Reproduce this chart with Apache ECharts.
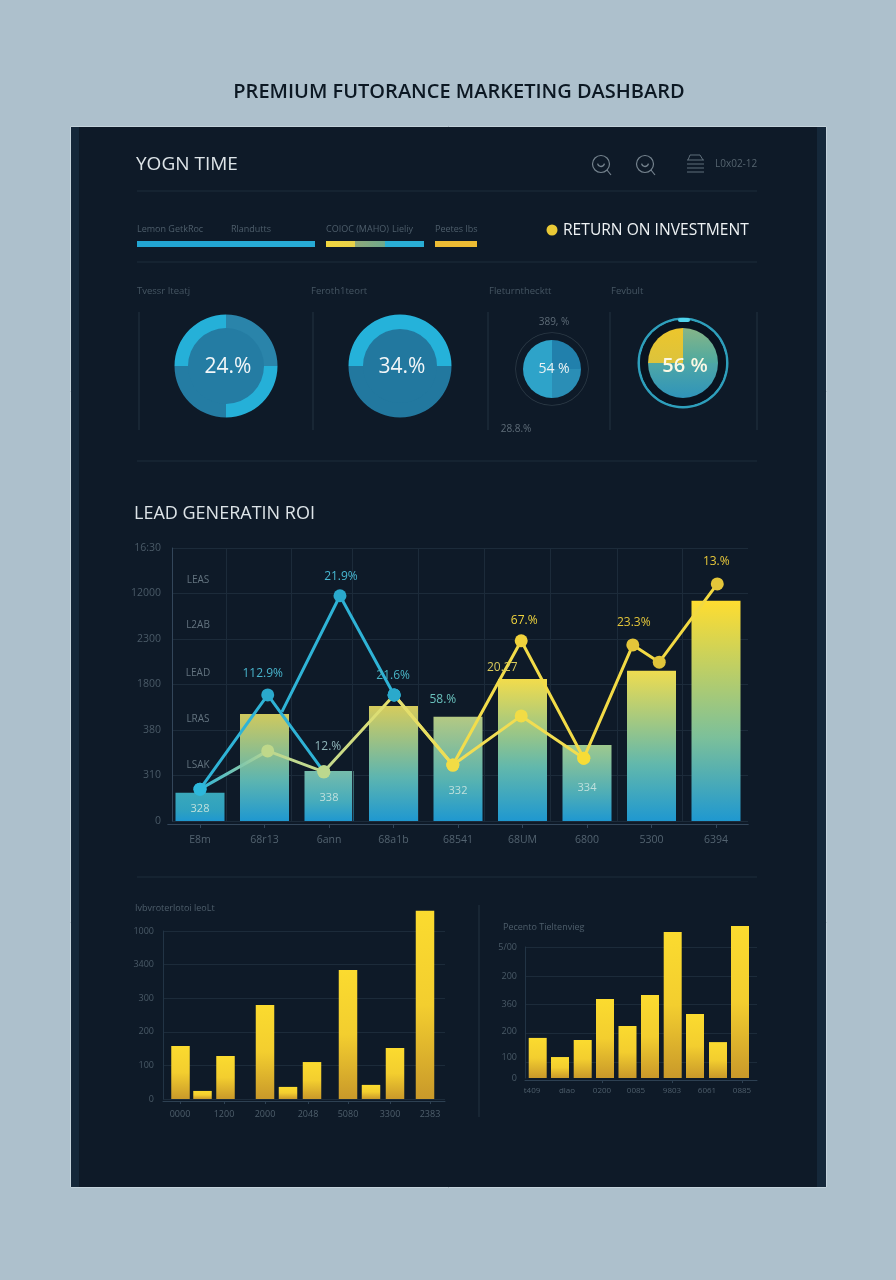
<!DOCTYPE html>
<html>
<head>
<meta charset="utf-8">
<title>Marketing dashboard</title>
<style>html,body{margin:0;padding:0;background:#adc0cc}#main{width:896px;height:1280px}</style>
<script src="https://cdn.jsdelivr.net/npm/echarts@6/dist/echarts.min.js"></script>
</head>
<body>
<div id="main"></div>
<script>
// Strip of progress segments under the header
const stripLabels = ['Lemon GetkRoc', 'Rlandutts', 'COIOC (MAHO)', 'Lieliy', 'Peetes lbs'];
const stripSegments = [93, 85, 11, 29, 30, 39, 11, 42];

// Ring and pie panels
const panelTitles = ['Tvessr Iteatj', 'Feroth1teort', 'Fleturnthecktt', 'Fevbult'];
const ringOneShares = [25, 25, 25, 25];
const ringTwoShares = [50, 50];
const pieThreeShares = [25, 25, 50];
const pieFourShares = [25, 50, 25];
const centreTexts = ['24.%', '34.%', '54 %', '56 %'];

// Lead generation chart
const leadCategories = ['E8m', '68r13', '6ann', '68a1b', '68541', '68UM', '6800', '5300', '6394'];
const leadTicks = ['0', '310', '380', '1800', '2300', '12000', '16:30'];
const leadRowNames = ['LEAS', 'L2AB', 'LEAD', 'LRAS', 'LSAK'];
const leadBars = [62, 235, 110, 253, 229, 312, 167, 330, 484];
const leadBarNotes = ['328', '', '338', '', '332', '', '334', '', ''];
const blueRise = [[0, 70], [1.05, 277], [1.92, 108]];
const blueRiseNotes = ['', '112.9%', ''];
const bluePeak = [[1.27, 240], [2.17, 495], [3.01, 277]];
const bluePeakNotes = ['', '21.9%', '21.6%'];
const paleLine = [[0, 70], [1.05, 154], [1.92, 108], [3.01, 277], [3.92, 123], [4.98, 231], [5.95, 138]];
const paleNotes = ['', '', '12.%', '', '', '20.27', ''];
const goldLine = [[3.01, 277], [3.92, 123], [4.98, 396], [5.95, 138], [6.71, 387], [7.12, 349], [8.02, 521]];
const goldNotes = ['', '58.%', '67.%', '', '23.3%', '', '13.%'];

// Lower left bars
const leftSlots = [1.75, 3.95, 6.25, 10.2, 12.5, 14.9, 18.5, 20.8, 23.2, 26.2];
const leftValues = [158, 24, 128, 280, 36, 110, 384, 42, 152, 560];
const leftTicks = ['0', '100', '200', '300', '3400', '1000'];
const leftSlotLabels = ['0000', '1200', '2000', '2048', '5080', '3300', '2383'];
const leftLabelSlots = [1.7, 6.1, 10.2, 14.5, 18.5, 22.7, 26.7];

// Lower right bars
const rightSlots = [1.27, 3.5, 5.77, 8, 10.25, 12.5, 14.77, 17, 19.3, 21.5];
const rightValues = [153, 80, 145, 302, 198, 317, 557, 244, 137, 580];
const rightGridValues = [61, 172, 282, 389, 500];
const rightTickValues = [0, 80, 179, 282, 389, 500];
const rightTicks = ['0', '100', '200', '360', '200', '5/00'];
const rightSlotLabels = ['t409', 'dlao', '0200', '0085', '9803', '6061', '0885'];
const rightLabelSlots = [0.7, 4.2, 7.7, 11.1, 14.7, 18.2, 21.7];

const FONT = '"Open Sans", sans-serif';
const DIM = '#4e5e6b';
const RULE = '#1d2c3b';

const leadBarTops = ['#3aa8bb', '#cfc95e', '#76bcab', '#d6cc5c', '#b4c983', '#f2dc4c', '#9ec98e', '#eedc50', '#ffdd30'];
const leadBarMids = ['#2fa1bf', '#5db5b0', '#45abbc', '#5db5b0', '#55b2b2', '#62b8ac', '#50aeb6', '#62b8ac', '#7cc09a'];

const chart = echarts.init(document.getElementById('main'), null, { renderer: 'canvas' });

function txt(text, x, y, size, fill, extra) {
  return { type: 'text', z: 100, silent: true, style: Object.assign({
    text, x, y, fill, font: size + 'px ' + FONT, textVerticalAlign: 'middle', verticalAlign: 'middle'
  }, extra || {}) };
}
function hrule(y) {
  return { type: 'line', z: -5, silent: true, shape: { x1: 137, y1: y, x2: 757, y2: y }, style: { stroke: RULE, lineWidth: 1 } };
}
function vrule(x, y1, y2) {
  return { type: 'line', z: -5, silent: true, shape: { x1: x, y1, x2: x, y2 }, style: { stroke: '#223240', lineWidth: 1 } };
}
function lens(cx, cy) {
  return [
    { type: 'circle', z: 50, silent: true, shape: { cx, cy, r: 8.5 }, style: { fill: 'none', stroke: '#75838e', lineWidth: 1.2 } },
    { type: 'line', z: 50, silent: true, shape: { x1: cx + 6, y1: cy + 6, x2: cx + 10, y2: cy + 11 }, style: { stroke: '#75838e', lineWidth: 1.2 } },
    { type: 'arc', z: 50, silent: true, shape: { cx, cy: cy - 1, r: 3.5, startAngle: 0.2, endAngle: Math.PI - 0.2 }, style: { fill: 'none', stroke: '#75838e', lineWidth: 1.4 } }
  ];
}
function sheetIcon() {
  const rows = [160, 164, 168, 172].map(y => ({
    type: 'line', z: 50, silent: true, shape: { x1: 687, y1: y, x2: 704, y2: y }, style: { stroke: '#5f6e7a', lineWidth: 1 }
  }));
  return rows.concat([{ type: 'polyline', z: 50, silent: true,
    shape: { points: [[688, 160], [690, 155], [700, 155], [703, 160]] }, style: { fill: 'none', stroke: '#5f6e7a', lineWidth: 1 } }]);
}

const graphicElements = [
  { type: 'rect', z: -10, silent: true, shape: { x: 0, y: 0, width: 896, height: 1280 }, style: { fill: '#adc0cc' } },
  { type: 'rect', z: -9, silent: true, shape: { x: 70.5, y: 126.5, width: 756, height: 1061 }, style: { fill: '#0e1a28', stroke: '#c3d2db', lineWidth: 1 } },
  { type: 'rect', z: -8, silent: true, shape: { x: 71, y: 127, width: 8, height: 1060 }, style: { fill: '#15283a' } },
  { type: 'rect', z: -8, silent: true, shape: { x: 817, y: 127, width: 9, height: 1060 }, style: { fill: '#15283a' } },
  txt('PREMIUM FUTORANCE MARKETING DASHBARD', 459, 92, 20, '#0c1823', { textAlign: 'center', align: 'center', font: '600 20px ' + FONT }),
  txt('YOGN TIME', 136, 165, 19, '#dde4e8'),
  txt('L0x02-12', 715, 164, 10, '#55646f'),
  hrule(191), hrule(262), hrule(461), hrule(877),
  { type: 'circle', z: 50, silent: true, shape: { cx: 552, cy: 230, r: 5.5 }, style: { fill: '#e9c936' } },
  txt('RETURN ON INVESTMENT', 563, 231, 15.6, '#eef2f4'),
  txt(stripLabels[0], 137, 229, 9, DIM), txt(stripLabels[1], 231, 229, 9, DIM),
  txt(stripLabels[2], 326, 229, 9, DIM), txt(stripLabels[3], 392, 229, 9, DIM), txt(stripLabels[4], 435, 229, 9, DIM),
  txt(panelTitles[0], 137, 291, 9.5, '#465663'), txt(panelTitles[1], 311, 291, 9.5, '#465663'),
  txt(panelTitles[2], 489, 291, 9.5, '#465663'), txt(panelTitles[3], 611, 291, 9.5, '#465663'),
  vrule(139, 312, 430), vrule(313, 312, 430), vrule(488, 312, 430), vrule(610, 312, 430), vrule(757, 312, 430),
  txt(centreTexts[0], 228, 367, 21, '#f2f6f8', { textAlign: 'center', align: 'center' }),
  txt(centreTexts[1], 402, 367, 21, '#f2f6f8', { textAlign: 'center', align: 'center' }),
  txt(centreTexts[2], 554, 369, 14, '#eaf2f4', { textAlign: 'center', align: 'center' }),
  txt(centreTexts[3], 685, 366, 20, '#fbf8e4', { textAlign: 'center', align: 'center', font: '600 20px ' + FONT }),
  txt('389, %', 554, 322, 10, '#5e6c78', { textAlign: 'center', align: 'center' }),
  txt('28.8.%', 516, 429, 10, '#5e6c78', { textAlign: 'center', align: 'center' }),
  { type: 'rect', z: 60, silent: true, shape: { x: 678, y: 318, width: 12, height: 4, r: 2 }, style: { fill: '#4fd3ec' } },
  txt('LEAD GENERATIN ROI', 134, 514, 18, '#dde4e8'),
  txt('Ivbvroterlotoi leoLt', 135, 908, 9, DIM),
  txt('Pecento Tieltenvieg', 503, 927, 9, DIM),
  vrule(479, 905, 1117)
].concat(lens(601, 164), lens(645, 164), sheetIcon());
leadRowNames.forEach((name, i) => {
  graphicElements.push(txt(name, 198, [580, 625, 673, 719, 765][i], 10, '#63737f', { textAlign: 'center', align: 'center' }));
});

const stripColours = [
  '#22a5d2', '#27abd6', 'transparent',
  { type: 'linear', x: 0, y: 0, x2: 1, y2: 0, colorStops: [{ offset: 0, color: '#f1d63f' }, { offset: 1, color: '#e8d24a' }] },
  { type: 'linear', x: 0, y: 0, x2: 1, y2: 0, colorStops: [{ offset: 0, color: '#8fa87a' }, { offset: 1, color: '#6fa98c' }] },
  '#29aed6', 'transparent', '#edbc34'
];
const stripSeries = stripSegments.map((v, i) => ({
  type: 'bar', stack: 'strip', xAxisIndex: 0, yAxisIndex: 0, barWidth: 6, silent: true,
  data: [v], itemStyle: { color: stripColours[i] }
}));

function pieSeries(center, radius, shares, colours, startAngle) {
  return {
    type: 'pie', center, radius, startAngle, clockwise: true, silent: true, label: { show: false }, labelLine: { show: false },
    itemStyle: { borderWidth: 0 },
    data: shares.map((v, i) => ({ value: v, itemStyle: { color: colours[i] } }))
  };
}
function vgrad(top, bottom) {
  return { type: 'linear', x: 0, y: 0, x2: 0, y2: 1, colorStops: [{ offset: 0, color: top }, { offset: 1, color: bottom }] };
}

const pies = [
  pieSeries([226, 366], [0, 39], [100], ['#247ca3'], 90),
  pieSeries([226, 366], [38, 51.5], ringOneShares, ['#2a84aa', '#25b0d8', '#247ca3', '#25b0d8'], 90),
  pieSeries([400, 366], [0, 38], [100], ['#22789f'], 90),
  pieSeries([400, 366], [37, 51.5], ringTwoShares, ['#25b2da', '#22789f'], 180),
  pieSeries([552, 369], [36, 36.8], [100], ['#2c3a46'], 90),
  pieSeries([552, 369], [0, 29], pieThreeShares, ['#2180ac', '#2a8eb6', '#2ea3c9'], 90),
  pieSeries([683, 363], [43, 45.5], [100], ['#2e9fbc'], 90),
  pieSeries([683, 363], [0, 43], [100], ['#091320'], 90),
  pieSeries([683, 363], [0, 35], pieFourShares,
    [vgrad('#86b588', '#4ea9a0'), vgrad('#4ea6a6', '#2f94ba'), vgrad('#edc62c', '#dcc33c')], 90)
];

function gradientAlong(stops) {
  return { type: 'linear', x: 172, y: 0, x2: 748, y2: 0, global: true,
    colorStops: stops.map(s => ({ offset: s[0], color: s[1] })) };
}
// Note offsets keep each percentage clear of the lines meeting at its point.
const noteOffsets = {
  '112.9%': [-5, -4], '21.9%': [1, -2], '21.6%': [-1, -2], '12.%': [4, -8], '20.27': [-19, -31],
  '58.%': [-10, -48], '67.%': [3, -3], '23.3%': [1, -5], '13.%': [-1, -5]
};
function leadLine(points, notes, stroke, dotColours, noteColours) {
  return {
    type: 'line', xAxisIndex: 5, yAxisIndex: 3, z: 5, silent: true, symbol: 'circle', symbolSize: 13,
    lineStyle: { width: 3, color: stroke },
    data: points.map((p, i) => ({
      value: p,
      itemStyle: { color: dotColours[i] },
      label: notes[i] ? {
        show: true, position: 'top', distance: 5, offset: noteOffsets[notes[i]],
        formatter: notes[i], color: noteColours[i], fontSize: 12, fontFamily: FONT
      } : { show: false }
    }))
  };
}

const leadBarSeries = {
  type: 'bar', xAxisIndex: 4, yAxisIndex: 3, barWidth: 49, z: 3, silent: true,
  data: leadBars.map((v, i) => ({
    value: v,
    itemStyle: { color: {
      type: 'linear', x: 0, y: 0, x2: 0, y2: 1,
      colorStops: [{ offset: 0, color: leadBarTops[i] }, { offset: 0.62, color: leadBarMids[i] }, { offset: 1, color: '#1f98d0' }]
    } },
    label: leadBarNotes[i] ? {
      show: true, position: 'insideBottom', distance: [7, 18, 25, 28][i / 2], formatter: leadBarNotes[i],
      color: '#bfe0dc', fontSize: 11, fontFamily: FONT
    } : { show: false }
  }))
};

// Vertical rules of the lead chart sit off the category centres.
const leadFrameSeries = {
  type: 'line', xAxisIndex: 3, yAxisIndex: 2, silent: true, data: [], symbol: 'none',
  markLine: { silent: true, symbol: 'none', label: { show: false }, animation: false,
    lineStyle: { color: '#1c2b3a', width: 1, type: 'solid' },
    data: [54, 119.5, 180.5, 246, 312, 378, 445, 510].map(v => ({ xAxis: v })) }
};

const goldBar = { type: 'linear', x: 0, y: 0, x2: 0, y2: 1,
  colorStops: [{ offset: 0, color: '#fbdb2f' }, { offset: 0.5, color: '#f3ce2f' }, { offset: 1, color: '#c9992a' }] };

chart.setOption({
  backgroundColor: '#adc0cc',
  animation: false,
  graphic: { elements: graphicElements },
  grid: [
    { left: 137, top: 241, width: 340, height: 6 },
    { left: 172, top: 548, width: 576, height: 273 },
    { left: 167.75, top: 548, width: 580.5, height: 273 },
    { left: 163, top: 931, width: 282, height: 168 },
    { left: 525, top: 947, width: 232, height: 131 }
  ],
  xAxis: [
    { gridIndex: 0, type: 'value', min: 0, max: 340, show: false },
    { gridIndex: 1, type: 'value', min: 0, max: 1, show: false },
    { gridIndex: 2, type: 'value', min: 0, max: 1, show: false },
    { gridIndex: 1, type: 'value', min: 0, max: 576, show: false },
    { gridIndex: 2, type: 'category', position: 'bottom', data: leadCategories, offset: 3,
      axisLine: { onZero: false, lineStyle: { color: '#33465a' } },
      axisTick: { show: true, alignWithLabel: true, length: 4, lineStyle: { color: '#33465a' } },
      axisLabel: { color: '#536370', fontSize: 10.5, fontFamily: FONT, margin: 11 }, splitLine: { show: false } },
    { gridIndex: 2, type: 'value', position: 'bottom', min: -0.5, max: 8.5, show: false },
    { gridIndex: 3, type: 'value', position: 'bottom', min: 0, max: 28.2, offset: 2,
      axisLine: { onZero: false, lineStyle: { color: '#2d4052' } },
      axisTick: { show: true, length: 3, customValues: leftLabelSlots, lineStyle: { color: '#2d4052' } },
      axisLabel: { customValues: leftLabelSlots, color: '#4f5f6c', fontSize: 9, fontFamily: FONT, margin: 9,
        formatter: v => leftSlotLabels[leftLabelSlots.indexOf(v)] || '' },
      splitLine: { show: false } },
    { gridIndex: 4, type: 'value', position: 'bottom', min: 0, max: 23.2, offset: 2,
      axisLine: { onZero: false, lineStyle: { color: '#2d4052' } },
      axisTick: { show: true, length: 3, customValues: [rightLabelSlots[2], rightLabelSlots[4], rightLabelSlots[6]], lineStyle: { color: '#2d4052' } },
      axisLabel: { customValues: rightLabelSlots, color: '#4f5f6c', fontSize: 8, fontFamily: FONT, margin: 7,
        formatter: v => rightSlotLabels[rightLabelSlots.indexOf(v)] || '' },
      splitLine: { show: false } }
  ],
  yAxis: [
    { gridIndex: 0, type: 'category', data: ['strip'], show: false },
    { gridIndex: 1, type: 'value', min: 0, max: 600, interval: 100,
      axisLine: { show: true, lineStyle: { color: '#33465a' } }, axisTick: { show: false },
      axisLabel: { color: '#4a5a67', fontSize: 10.5, fontFamily: FONT, margin: 11, formatter: v => leadTicks[v / 100] },
      splitLine: { lineStyle: { color: '#1c2b3a' } } },
    { gridIndex: 1, type: 'value', min: 0, max: 600, show: false },
    { gridIndex: 2, type: 'value', min: 0, max: 600, show: false },
    { gridIndex: 3, type: 'value', min: 0, max: 500, interval: 100,
      axisLine: { show: true, lineStyle: { color: '#223445' } }, axisTick: { show: false },
      axisLabel: { color: '#4a5a67', fontSize: 9, fontFamily: FONT, margin: 9, formatter: v => leftTicks[v / 100] },
      splitLine: { lineStyle: { color: '#1c2b3a' } } },
    { gridIndex: 4, type: 'value', min: 0, max: 500,
      axisLine: { show: true, lineStyle: { color: '#223445' } },
      axisTick: { show: false, customValues: rightGridValues },
      axisLabel: { customValues: rightTickValues, color: '#4a5a67', fontSize: 9, fontFamily: FONT, margin: 8,
        formatter: v => rightTicks[rightTickValues.indexOf(v)] },
      splitLine: { lineStyle: { color: '#1c2b3a' } } }
  ],
  series: stripSeries.concat(pies, [
    leadFrameSeries,
    leadBarSeries,
    leadLine(paleLine, paleNotes,
      gradientAlong([[0.05, '#2fb3d6'], [0.17, '#bcd78f'], [0.27, '#c4d98d'], [0.39, '#e6e06a'], [0.5, '#f0dd55'], [1, '#f5dd45']]),
      ['#2db8dc', '#bfd88a', '#bcd88e', '#2fb4d8', '#f2dc45', '#f2dc45', '#f7dc35'],
      ['', '', '#8fb4b8', '', '', '#d8c95a', '']),
    leadLine(goldLine, goldNotes,
      gradientAlong([[0.39, '#e0df72'], [0.5, '#f2dd4c'], [1, '#f2d840']]),
      ['#2fb4d8', '#f2dc45', '#f0d23c', '#f7dc35', '#e4c63a', '#e0c43a', '#e4c63a'],
      ['', '#69c0bc', '#f0d53e', '', '#e4c63a', '', '#e8c83a']),
    leadLine(blueRise, blueRiseNotes, '#2fb3d6',
      ['#2db8dc', '#2aa9cc', '#bcd88e'], ['', '#48b4cc', '']),
    leadLine(bluePeak, bluePeakNotes, '#2fb3d6',
      ['transparent', '#2aa9cc', '#2aa9cc'], ['', '#48b8d2', '#48b4c4']),
    { type: 'bar', xAxisIndex: 6, yAxisIndex: 4, barWidth: 18.5, clip: false, silent: true,
      itemStyle: { color: goldBar }, data: leftSlots.map((s, i) => [s, leftValues[i]]) },
    { type: 'bar', xAxisIndex: 7, yAxisIndex: 5, barWidth: 18, clip: false, silent: true,
      itemStyle: { color: goldBar }, data: rightSlots.map((s, i) => [s, rightValues[i]]) }
  ])
});
</script>
</body>
</html>
